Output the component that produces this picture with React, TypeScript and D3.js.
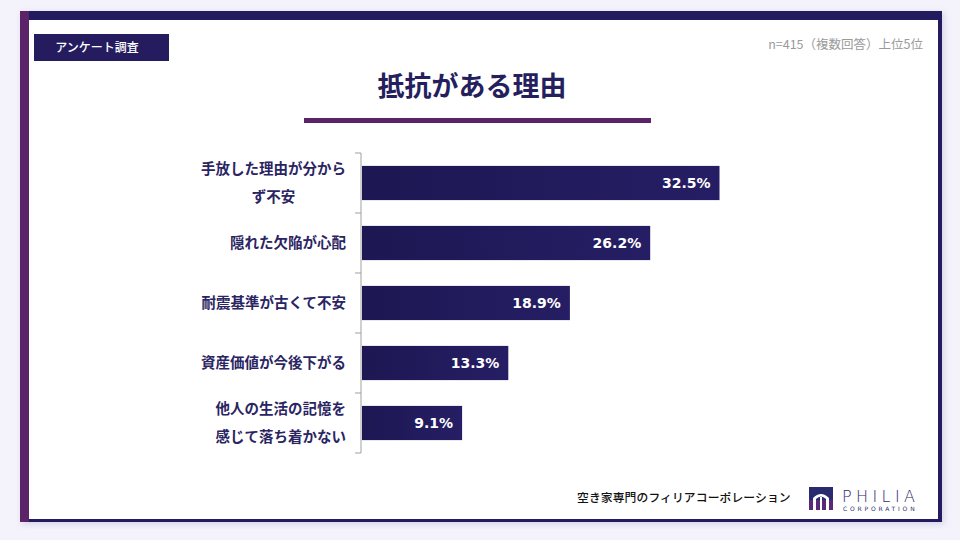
import * as d3 from 'd3';
import React, { useRef, useEffect } from 'react';

// data
const categories = [
  ['手放した理由が分から', 'ず不安'],
  ['隠れた欠陥が心配'],
  ['耐震基準が古くて不安'],
  ['資産価値が今後下がる'],
  ['他人の生活の記憶を', '感じて落ち着かない'],
];
const values = [32.5, 26.2, 18.9, 13.3, 9.1];
const title = '抵抗がある理由';
const badge = 'アンケート調査';
const note = 'n=415（複数回答）上位5位';
const footer = '空き家専門のフィリアコーポレーション';

const JP = "'Noto Sans CJK JP', 'Noto Sans', sans-serif";
const NAVY = '#241c5f';
const PURPLE = '#5c2468';

function App() {
  const svgRef = useRef<SVGSVGElement>(null);

  useEffect(() => {
    const width = 960;
    const height = 540;
    const svg = d3.select(svgRef.current);
    svg.selectAll('*').remove();
    svg.attr('width', width).attr('height', height);

    /* background + card */
    svg.append('rect').attr('width', width).attr('height', height).attr('fill', '#f4f2fa');

    const defs = svg.append('defs');
    const grad = defs
      .append('linearGradient')
      .attr('id', 'barGrad')
      .attr('x1', '0%')
      .attr('x2', '100%');
    grad.append('stop').attr('offset', '0%').attr('stop-color', '#1d1753');
    grad.append('stop').attr('offset', '100%').attr('stop-color', '#261e64');

    const shadow = defs.append('filter').attr('id', 'shadow').attr('x', '-5%').attr('y', '-5%').attr('width', '110%').attr('height', '110%');
    shadow.append('feDropShadow').attr('dx', 2).attr('dy', 2).attr('stdDeviation', 3).attr('flood-color', '#b8b0d8').attr('flood-opacity', 0.5);

    svg.append('rect').attr('x', 20).attr('y', 11).attr('width', 922).attr('height', 511).attr('fill', NAVY).attr('filter', 'url(#shadow)');
    svg.append('rect').attr('x', 20).attr('y', 11).attr('width', 9).attr('height', 511).attr('fill', PURPLE);
    svg.append('rect').attr('x', 29).attr('y', 20).attr('width', 909).attr('height', 499).attr('fill', '#ffffff');

    /* badge */
    svg.append('rect').attr('x', 34).attr('y', 34).attr('width', 135).attr('height', 27).attr('fill', NAVY);
    svg
      .append('text')
      .attr('x', 97)
      .attr('y', 52)
      .attr('text-anchor', 'middle')
      .attr('fill', '#fff')
      .style('font-family', JP)
      .style('font-size', '12px')
      .style('font-weight', 500)
      .text(badge);

    /* note */
    svg
      .append('text')
      .attr('x', 923)
      .attr('y', 49)
      .attr('text-anchor', 'end')
      .attr('fill', '#9a9a9a')
      .style('font-family', JP)
      .style('font-size', '12.5px')
      .text(note);

    /* title */
    svg
      .append('text')
      .attr('x', 472)
      .attr('y', 96)
      .attr('text-anchor', 'middle')
      .attr('fill', '#261f5e')
      .style('font-family', JP)
      .style('font-size', '27px')
      .style('font-weight', 700)
      .text(title);
    svg.append('rect').attr('x', 304).attr('y', 118).attr('width', 347).attr('height', 5).attr('fill', PURPLE);

    /* Scale */
    const x0 = 362;
    const xScale = d3.scaleLinear().domain([0, 40]).range([x0, x0 + 440]);
    const yScale = d3
      .scaleBand<number>()
      .domain(d3.range(values.length))
      .range([153, 453])
      .paddingInner(0.43)
      .paddingOuter(0.215);

    /* axis */
    const yAxis = d3
      .axisLeft(yScale)
      .tickSize(0)
      .tickFormat(() => '');
    const axisG = svg.append('g').attr('transform', `translate(${x0 - 1},0)`).call(yAxis);
    axisG.select('.domain').attr('stroke', '#a0a0a0').attr('stroke-width', 1).attr('d', 'M0,153V453');
    const step = yScale.step();
    const boundaries = d3.range(values.length + 1).map((i) => 153 + i * step);
    axisG
      .selectAll('line.sep')
      .data(boundaries)
      .enter()
      .append('line')
      .attr('class', 'sep')
      .attr('x1', -6)
      .attr('x2', 0)
      .attr('y1', (d) => d)
      .attr('y2', (d) => d)
      .attr('stroke', '#a0a0a0');

    /* bars */
    svg
      .append('g')
      .selectAll('rect')
      .data(values)
      .enter()
      .append('rect')
      .attr('x', x0)
      .attr('y', (d, i) => yScale(i)!)
      .attr('width', (d) => xScale(d) - x0)
      .attr('height', yScale.bandwidth())
      .attr('fill', 'url(#barGrad)');

    svg
      .append('g')
      .selectAll('text')
      .data(values)
      .enter()
      .append('text')
      .attr('x', (d) => xScale(d) - 9)
      .attr('y', (d, i) => yScale(i)! + yScale.bandwidth() / 2 + 5)
      .attr('text-anchor', 'end')
      .attr('fill', '#fff')
      .style('font-family', "'DejaVu Sans', sans-serif")
      .style('font-size', '14px')
      .style('font-weight', 700)
      .text((d) => `${d.toFixed(1)}%`);

    /* category labels */
    const labelRight = 346;
    const labels = svg.append('g');
    categories.forEach((lines, i) => {
      const cy = yScale(i)! + yScale.bandwidth() / 2;
      const lineH = 28;
      const g = labels.append('g');
      const texts = lines.map((ln, j) =>
        g
          .append('text')
          .attr('y', cy + (j - (lines.length - 1) / 2) * lineH + 5)
          .attr('fill', '#2a2562')
          .style('font-family', JP)
          .style('font-size', '14.5px')
          .style('font-weight', 700)
          .text(ln)
      );
      if (lines.length === 1) {
        texts[0].attr('x', labelRight).attr('text-anchor', 'end');
      } else {
        const widths = texts.map((t) => (t.node() as SVGTextElement).getComputedTextLength());
        const maxW = d3.max(widths) || 0;
        texts.forEach((t) => t.attr('x', labelRight - maxW / 2).attr('text-anchor', 'middle'));
      }
    });

    /* footer */
    svg
      .append('text')
      .attr('x', 577)
      .attr('y', 502)
      .attr('fill', '#111')
      .style('font-family', JP)
      .style('font-size', '11.8px')
      .style('font-weight', 500)
      .style('letter-spacing', '0.1px')
      .text(footer);

    /* logo */
    const logo = svg.append('g').attr('transform', 'translate(809,487)');
    logo.append('rect').attr('width', 24).attr('height', 13).attr('fill', '#2a2a6e');
    logo.append('rect').attr('y', 13).attr('width', 24).attr('height', 10).attr('fill', '#5a2a78');
    logo
      .append('path')
      .attr('d', 'M4,23V11Q12,3 20,11V23H17V12Q12,7 7,12V23Z M11,23V10H13V23Z')
      .attr('fill', '#fff');
    svg
      .append('text')
      .attr('x', 842)
      .attr('y', 502)
      .attr('fill', '#2e2b6e')
      .style('font-family', "'DejaVu Sans', sans-serif")
      .style('font-size', '16px')
      .style('font-weight', 300)
      .style('letter-spacing', '4.4px')
      .text('PHILIA');
    svg
      .append('text')
      .attr('x', 843)
      .attr('y', 511)
      .attr('fill', '#2e2b6e')
      .style('font-family', "'DejaVu Sans', sans-serif")
      .style('font-size', '6px')
      .style('letter-spacing', '2.8px')
      .text('CORPORATION');
  }, []);

  return (
    <svg
      ref={svgRef}
      style={{ position: 'fixed', left: 0, top: 0, display: 'block' }}
    ></svg>
  );
}

export default App;
